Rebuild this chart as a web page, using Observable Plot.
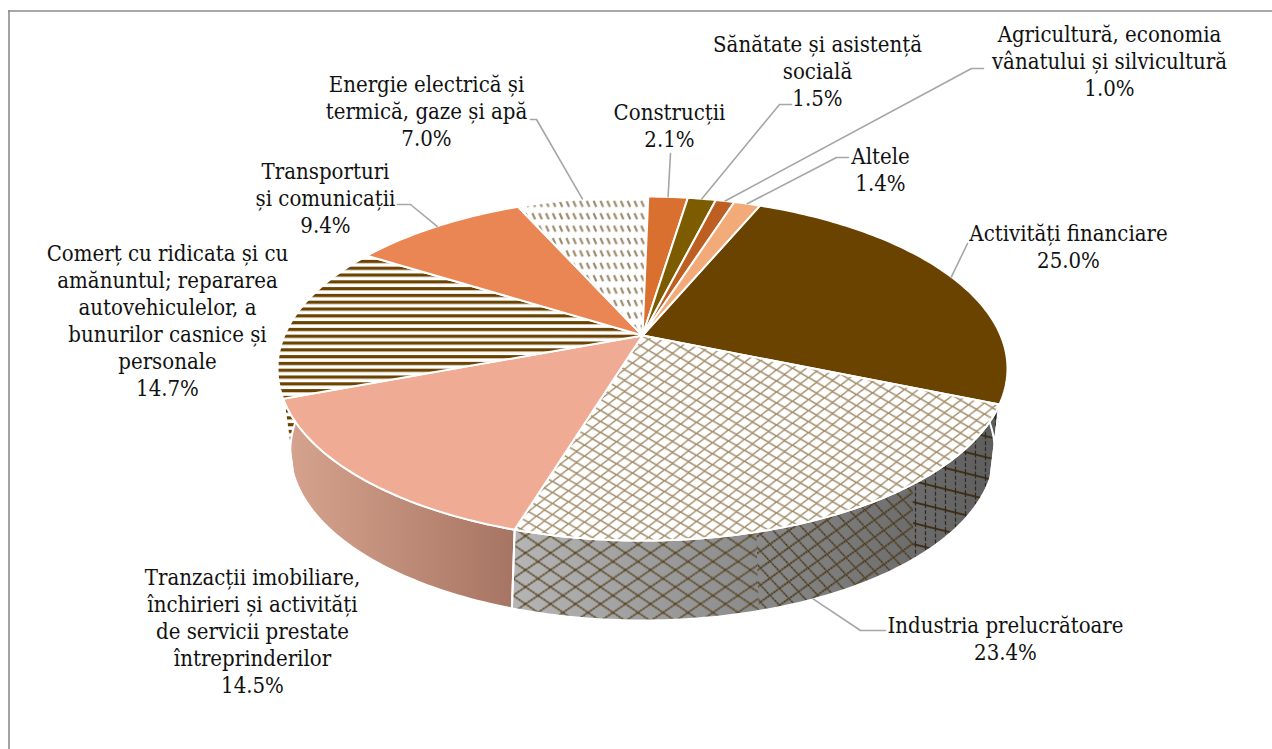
<!DOCTYPE html>
<html>
<head>
<meta charset="utf-8">
<script src="https://cdn.jsdelivr.net/npm/d3@7"></script>
<script src="https://cdn.jsdelivr.net/npm/@observablehq/plot@0.6"></script>
<style>html,body{margin:0;padding:0;background:#fff;overflow:hidden}svg{display:block}</style>
</head>
<body>
<div id="chart"></div>
<script>
// ---- data ----
const categories = ["Activități financiare","Industria prelucrătoare","Tranzacții imobiliare, închirieri și activități de servicii prestate întreprinderilor","Comerț cu ridicata și cu amănuntul; repararea autovehiculelor, a bunurilor casnice și personale","Transporturi și comunicații","Energie electrică și termică, gaze și apă","Construcții","Sănătate și asistență socială","Agricultură, economia vânatului și silvicultură","Altele"];
const values = [25.0,23.4,14.5,14.7,9.4,7.0,2.1,1.5,1.0,1.4];
const labelLines = [
  "Activități financiare","Industria prelucrătoare",
  "Tranzacții imobiliare,\nînchirieri și activități\nde servicii prestate\nîntreprinderilor",
  "Comerț cu ridicata și cu\namănuntul; repararea\nautovehiculelor, a\nbunurilor casnice și\npersonale",
  "Transporturi\nși comunicații","Energie electrică și\ntermică, gaze și apă","Construcții",
  "Sănătate și asistență\nsocială","Agricultură, economia\nvânatului și silvicultură","Altele"];
// ---- layout (not data) ----
const topFills = ["#6b4300","url(#latticeTop)","#efab94","url(#stripes)","#ea8554","url(#dashes)","#da7030","#7d5c00","#bd5f22","#f2ab78"];
const wallFills = ["#3e2700","url(#gradGrey)","url(#gradSalmon)","#e9dfcf","#b96c44","#d8d2c4","#a0541f","#5a4200","#8a4517","#c0814f"];
const labelX = [1068,1005,252,167,325,426,669,817,1109,880];
const labelTop = [232,624,576,252,170,83,111,43,33,155];
const labelStep = 27;
const fontSize = 22;
const elbows = [
  [[967,243]],[[885,630],[860,630]],null,null,[[397,204],[410,204]],[[530,119],[536,119]],
  [[670,153]],[[791,104],[779,104]],[[983,68],[971,68]],[[848,157],[836,157]]];
const leaderOnBase = [false,true,false,false,false,false,false,false,false,false];
const leaderShift = [0,2.5,0,0,0,0,0,0,0,0];
const startAngle = 22.7;
const cx = 642, cy = 335;
const topDisc = {A: 358.2, B: 165.7, K: 0.192, D: 0};
const baseDisc = {A: 341, B: 159, K: 0.25, D: 73};

const rad = d => d * Math.PI / 180;
function project(deg, base = false) {
  const {A, B, K, D} = base ? baseDisc : topDisc;
  const X = Math.sin(rad(deg)), Y = Math.cos(rad(deg)), w = 1 + K * Y;
  return [cx + A * X / w, cy + D - B * Y / w];
}
const arc = (a0, a1, base) => {
  const n = Math.max(2, Math.ceil(Math.abs(a1 - a0)));
  return d3.range(n + 1).map(i => project(a0 + (a1 - a0) * i / n, base));
};
let acc = startAngle;
const total = d3.sum(values);
const slices = values.map((v, i) => {
  const a0 = acc, a1 = acc + v / total * 360; acc = a1;
  return {i, a0, a1, mid: (a0 + a1) / 2};
});
const wedge = s => [[cx, cy], ...arc(s.a0, s.a1, false)];
const wall = (a0, a1) => [...arc(a0, a1, false), ...arc(a1, a0, true)];
const opt = {x: d => d[0], y: d => d[1], curve: "linear-closed"};

const wallOrder = [...slices].sort((a, b) => Math.abs(((a.mid % 360) - 180)) < Math.abs(((b.mid % 360) - 180)) ? 1 : -1);
const marks = [];
for (const s of wallOrder) marks.push(Plot.line(wall(s.a0, s.a1), {...opt, fill: wallFills[s.i], stroke: "none"}));
const ind = slices[1];
const split1 = 140, split2 = 165;
marks.push(Plot.line(wall(ind.a0, split1), {...opt, fill: "url(#latticeSide)", stroke: "none"}));
marks.push(Plot.line(wall(split1, split2), {...opt, fill: "url(#latticeMid)", stroke: "none"}));
marks.push(Plot.line(wall(split2, ind.a1), {...opt, fill: "url(#latticeWall)", stroke: "none"}));
marks.push(Plot.line(wall(slices[3].a0, slices[3].a1), {...opt, fill: "url(#stripes)", stroke: "none"}));
for (const s of wallOrder) marks.push(Plot.line(wall(s.a0, s.a1), {...opt, fill: "none", stroke: "#fff", strokeWidth: 2}));
for (const s of slices) marks.push(Plot.line(wedge(s), {...opt, fill: topFills[s.i], stroke: "#fff", strokeWidth: 2}));
slices.forEach(s => {
  if (!elbows[s.i]) return;
  const pts = [...elbows[s.i], project(s.mid + leaderShift[s.i], leaderOnBase[s.i])];
  marks.push(Plot.line(pts, {x: d => d[0], y: d => d[1], stroke: "#a6a6a6", strokeWidth: 1.6}));
});
const labels = slices.map(s => {
  const text = labelLines[s.i] + "\n" + values[s.i].toFixed(1) + "%";
  const n = text.split("\n").length;
  return {x: labelX[s.i], y: labelTop[s.i] + (n - 1) * labelStep / 2, text};
});
marks.push(Plot.text(labels, {x: "x", y: "y", text: "text", textAnchor: "middle", lineAnchor: "middle", lineHeight: labelStep / fontSize, fontSize, fill: "#111", fontFamily: "DejaVu Serif Condensed, DejaVu Serif"}));
marks.push(Plot.ruleY([10.5], {x1: 8, x2: 1272, stroke: "#8c8c8c", strokeWidth: 1.6}));
marks.push(Plot.ruleX([8.5], {y1: 10, y2: 749, stroke: "#8c8c8c", strokeWidth: 1.6}));

const plot = Plot.plot({
  width: 1272, height: 749, margin: 0,
  x: {domain: [0, 1272], range: [0, 1272], axis: null},
  y: {domain: [0, 749], range: [0, 749], axis: null},
  style: {background: "#fff"},
  marks
});
const defs = document.createElementNS("http://www.w3.org/2000/svg", "defs");
defs.innerHTML = `
<pattern id="latticeTop" patternUnits="userSpaceOnUse" width="16" height="11" patternTransform="skewY(-6)">
  <rect width="16" height="11" fill="#fff"/>
  <path d="M0,5.5L8,0L16,5.5L8,11Z" fill="none" stroke="#a08c68" stroke-width="1.5"/>
</pattern>
<pattern id="latticeWall" patternUnits="userSpaceOnUse" width="25" height="17">
  <path d="M0,8.5L12.5,0L25,8.5L12.5,17Z" fill="none" stroke="#54401c" stroke-width="1.6" stroke-dasharray="2.5 0.6"/>
</pattern>
<pattern id="latticeMid" patternUnits="userSpaceOnUse" width="19" height="17" patternTransform="skewY(10)">
  <path d="M0,8.5L9.5,0L19,8.5L9.5,17Z" fill="none" stroke="#4a3818" stroke-width="1.6" stroke-dasharray="2.5 0.6"/>
</pattern>
<pattern id="latticeSide" patternUnits="userSpaceOnUse" width="10" height="21" patternTransform="skewY(14)">
  <path d="M0,1H10" stroke="#3f2f14" stroke-width="2"/>
  <path d="M5,0V21" stroke="#2e2a22" stroke-width="1.2" stroke-dasharray="4 2"/>
</pattern>
<pattern id="stripes" patternUnits="userSpaceOnUse" width="10" height="6.8">
  <rect width="10" height="6.8" fill="#fff"/>
  <rect y="1" width="10" height="3.2" fill="#6b4300"/>
</pattern>
<pattern id="dashes" patternUnits="userSpaceOnUse" width="6.8" height="12.4">
  <rect width="6.8" height="12.4" fill="#fff"/>
  <path d="M1.5,2L4.2,8" stroke="#9c8a6c" stroke-width="2.2"/>
</pattern>
<linearGradient id="gradGrey" gradientUnits="userSpaceOnUse" x1="515" x2="1000" y1="0" y2="0">
  <stop offset="0" stop-color="#b5b5b5"/><stop offset="0.55" stop-color="#868686"/><stop offset="1" stop-color="#5c5c5c"/>
</linearGradient>
<linearGradient id="gradSalmon" gradientUnits="userSpaceOnUse" x1="285" x2="515" y1="0" y2="0">
  <stop offset="0" stop-color="#d6a48e"/><stop offset="1" stop-color="#a67462"/>
</linearGradient>`;
plot.insertBefore(defs, plot.firstChild);
document.getElementById("chart").append(plot);
</script>
</body>
</html>
